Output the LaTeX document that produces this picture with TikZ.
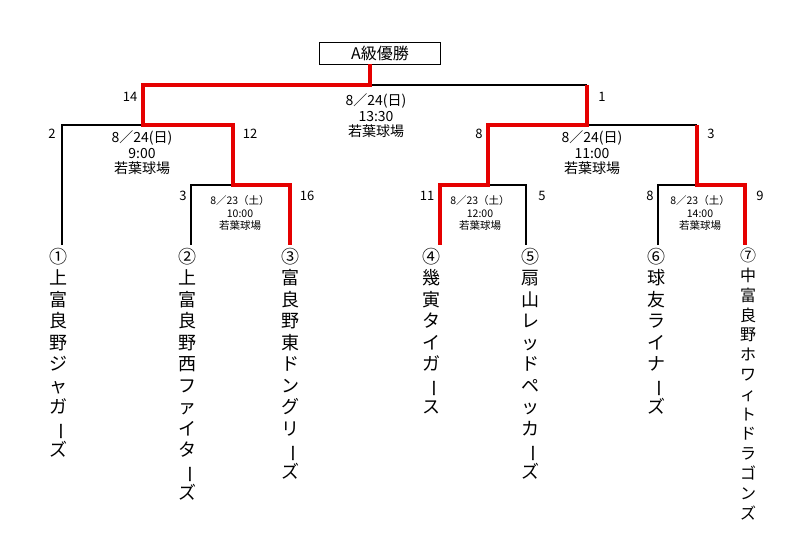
\documentclass[tikz,border=0pt]{standalone}
\usepackage{fontspec}
\setmainfont{Noto Sans CJK JP}
\usepackage{graphicx}
\newcommand{\cho}{\rotatebox[origin=c]{-90}{ー}}

\begin{document}
\begin{tikzpicture}[x=1pt,y=-1pt]
    \useasboundingbox (0,0) rectangle (800,541);
    \tikzset{
        win/.style={red!90!black,line width=3.4pt},
        lose/.style={black,line width=1.1pt},
        score/.style={font=\fontsize{13}{14}\selectfont},
        info/.style={align=center,font=\fontsize{14}{15.5}\selectfont},
        sinfo/.style={align=center,font=\fontsize{10.5}{12.5}\selectfont},
        team/.style={anchor=north,align=center,inner sep=0pt,font=\fontsize{18}{21.5}\selectfont}
    }
    % title
    \node[draw,line width=1pt,minimum width=121pt,minimum height=22pt,inner sep=0pt,
        font=\fontsize{16}{16}\selectfont] (title) at (380,53) {A級優勝};
    \coordinate (top) at (370,64);
    % bracket frame
    \draw[lose] (370,85) -- (587,85);
    \draw[lose] (587,125) -- (697,125);
    \draw[lose] (191,245) -- (191,185) -- (233,185);
    \draw[lose] (62,245) -- (62,125) -- (143,125);
    \draw[lose] (488,185) -- (526,185) -- (526,245);
    \draw[lose] (658,245) -- (658,185) -- (697,185);
    % winning path
    \draw[win] (top) -- (370,85) -- (143,85) -- (143,125) -- (233,125) -- (233,185) -- (290,185) -- (290,245);
    \draw[win] (587,85) -- (587,125) -- (488,125) -- (488,185) -- (440,185) -- (440,245);
    \draw[win] (697,125) -- (697,185) -- (745,185) -- (745,245);
    % scores
    \node[score] (s14) at (130,97) {14};
    \node[score] (s1) at (602,97) {1};
    \node[score] (s2) at (52,134) {2};
    \node[score] (s12) at (250,134) {12};
    \node[score] (s8a) at (479,134) {8};
    \node[score] (s3a) at (711,134) {3};
    \node[score] (s3b) at (183,196) {3};
    \node[score] (s16) at (307,196) {16};
    \node[score] (s11) at (427,196) {11};
    \node[score] (s5) at (542,196) {5};
    \node[score] (s8b) at (650,196) {8};
    \node[score] (s9) at (760,196) {9};
    % match info
    \node[info] (m1) at (376,116) {8／24(日)\\13:30\\若葉球場};
    \node[info] (m2) at (142,153) {8／24(日)\\9:00\\若葉球場};
    \node[info] (m3) at (592,153) {8／24(日)\\11:00\\若葉球場};
    \node[sinfo] (m4) at (240,213) {8／23（土）\\10:00\\若葉球場};
    \node[sinfo] (m5) at (480,213) {8／23（土）\\12:00\\若葉球場};
    \node[sinfo] (m6) at (700,213) {8／23（土）\\14:00\\若葉球場};
    % teams
    \node[team] (t1) at (58,248) {①\\上\\富\\良\\野\\ジ\\ャ\\ガ\\\cho\\ズ};
    \node[team] (t2) at (187,248) {②\\上\\富\\良\\野\\西\\フ\\ァ\\イ\\タ\\\cho\\ズ};
    \node[team] (t3) at (290,248) {③\\富\\良\\野\\東\\ド\\ン\\グ\\リ\\\cho\\ズ};
    \node[team] (t4) at (431,248) {④\\幾\\寅\\タ\\イ\\ガ\\\cho\\ス};
    \node[team] (t5) at (530,248) {⑤\\扇\\山\\レ\\ッ\\ド\\ペ\\ッ\\カ\\\cho\\ズ};
    \node[team] (t6) at (656,248) {⑥\\球\\友\\ラ\\イ\\ナ\\\cho\\ズ};
    \node[team,font=\fontsize{16}{19.8}\selectfont] (t7) at (748,248) {⑦\\中\\富\\良\\野\\ホ\\ワ\\ィ\\ト\\ド\\ラ\\ゴ\\ン\\ズ};
\end{tikzpicture}
\end{document}
